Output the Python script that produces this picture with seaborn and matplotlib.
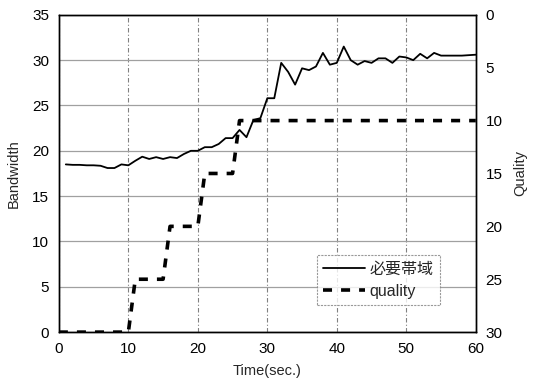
import numpy as np
import pandas as pd
import matplotlib
matplotlib.use("Agg")
import matplotlib.pyplot as plt
import seaborn as sns

# データ
time_bw = list(range(1, 61))
bandwidth = [18.5, 18.45, 18.45, 18.4, 18.4, 18.35, 18.1, 18.1, 18.5, 18.4,
             18.9, 19.35, 19.1, 19.3, 19.1, 19.3, 19.2, 19.65, 20.0, 20.0,
             20.4, 20.4, 20.75, 21.4, 21.4, 22.3, 21.5, 23.4, 23.6, 25.8,
             25.8, 29.7, 28.7, 27.3, 29.1, 28.9, 29.3, 30.8, 29.5, 29.7,
             31.5, 30.0, 29.5, 29.9, 29.7, 30.2, 30.2, 29.7, 30.4, 30.3,
             30.0, 30.7, 30.2, 30.8, 30.5, 30.5, 30.5, 30.5, 30.55, 30.6]

time_q = list(range(0, 61))
quality = [30] * 11 + [25] * 5 + [20] * 5 + [15] * 5 + [10] * 35

df_bw = pd.DataFrame({"t": time_bw, "bw": bandwidth})
df_q = pd.DataFrame({"t": time_q, "q": quality})

sns.set_style("white")
plt.rcParams["font.family"] = ["Liberation Sans", "Noto Sans CJK JP"]

fig = plt.figure(figsize=(5.45, 3.8), dpi=100)
ax = fig.add_axes([0.108, 0.126, 0.765, 0.835])
ax2 = ax.twinx()

sns.lineplot(data=df_bw, x="t", y="bw", ax=ax, color="black", lw=1.3,
             label="必要帯域", legend=False)
sns.lineplot(data=df_q, x="t", y="q", ax=ax2, color="black", lw=2.6,
             linestyle=(0, (2.5, 2.5)), label="quality", legend=False)

ax.set_xlim(0, 60)
ax.set_ylim(0, 35)
ax2.set_ylim(30, 0)
ax.set_xticks(range(0, 61, 10))
ax.set_yticks(range(0, 36, 5))
ax2.set_yticks(range(0, 31, 5))

ax.yaxis.grid(True, color="#a0a0a0", lw=0.9, ls="-")
ax.xaxis.grid(True, color="#808080", lw=0.8, ls=(0, (4, 2, 1, 2)))
ax.set_axisbelow(True)

for a in (ax, ax2):
    for s in a.spines.values():
        s.set_color("black")
        s.set_linewidth(1.0)
    a.tick_params(length=0, labelsize=11, colors="black", pad=7)

ax.set_xlabel("Time(sec.)", fontsize=10.5, labelpad=6)
ax.set_ylabel("Bandwidth", fontsize=10.5, labelpad=8)
ax2.set_ylabel("Quality", fontsize=10.5, labelpad=8)

h1, l1 = ax.get_legend_handles_labels()
h2, l2 = ax2.get_legend_handles_labels()
leg = ax2.legend(h1 + h2, l1 + l2, loc="lower left",
                 bbox_to_anchor=(0.6, 0.06), fontsize=11.5, frameon=True,
                 fancybox=False, handlelength=2.6, borderpad=0.4,
                 labelspacing=0.45, handletextpad=0.3)
leg.get_frame().set_edgecolor("#808080")
leg.get_frame().set_linestyle((0, (2, 1)))
leg.get_frame().set_linewidth(0.8)

fig.savefig("out.png", dpi=100)
